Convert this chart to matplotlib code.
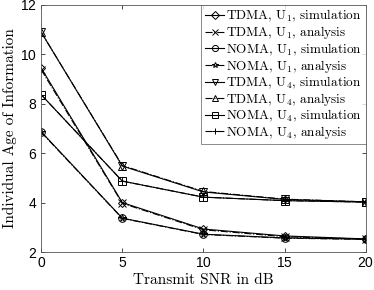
import numpy as np
import matplotlib.pyplot as plt

plt.rcParams['mathtext.fontset'] = 'cm'
plt.rcParams['axes.formatter.use_mathtext'] = True

snr = [0, 5, 10, 15, 20]

tdma_u1_sim = [9.45, 4.0, 2.93, 2.65, 2.53]
tdma_u1_ana = [9.38, 3.97, 2.90, 2.62, 2.52]
noma_u1_sim = [6.87, 3.37, 2.72, 2.57, 2.52]
noma_u1_ana = [6.85, 3.36, 2.71, 2.56, 2.51]
tdma_u4_sim = [10.9, 5.48, 4.43, 4.13, 4.03]
tdma_u4_ana = [10.9, 5.50, 4.45, 4.14, 4.03]
noma_u4_sim = [8.37, 4.87, 4.22, 4.08, 4.02]
noma_u4_ana = [8.37, 4.87, 4.22, 4.08, 4.02]

series = [
    (tdma_u1_sim, 'D', '-', 'TDMA, U$_1$, simulation'),
    (tdma_u1_ana, 'x', '-.', 'TDMA, U$_1$, analysis'),
    (noma_u1_sim, 'o', '-', 'NOMA, U$_1$, simulation'),
    (noma_u1_ana, '*', '-.', 'NOMA, U$_1$, analysis'),
    (tdma_u4_sim, 'v', '-', 'TDMA, U$_4$, simulation'),
    (tdma_u4_ana, '^', '-.', 'TDMA, U$_4$, analysis'),
    (noma_u4_sim, 's', '-', 'NOMA, U$_4$, simulation'),
    (noma_u4_ana, '+', '-.', 'NOMA, U$_4$, analysis'),
]

fig = plt.figure(figsize=(3.74, 2.90), dpi=100)
ax = fig.add_axes([0.11, 0.131, 0.868, 0.852])

for vals, m, ls, lab in series:
    ms = 4.5 if m == 'D' else 5.5
    ax.plot(snr, vals, color='k', linestyle=ls, marker=m, markersize=ms,
            markerfacecolor='none', markeredgewidth=0.7, linewidth=0.8, label=lab)

ax.set_xlim(0, 20)
ax.set_ylim(2, 12)
ax.set_xticks([0, 5, 10, 15, 20])
ax.set_yticks([2, 4, 6, 8, 10, 12])
ax.tick_params(direction='in', length=3, width=0.5, labelsize=10, pad=3,
               top=True, right=True)
for lbl in ax.get_xticklabels() + ax.get_yticklabels():
    lbl.set_family('Liberation Sans')
for sp in ax.spines.values():
    sp.set_linewidth(0.6)
    sp.set_color('#555555')

ax.set_xlabel('Transmit SNR in dB', family='cmr10', fontsize=11, labelpad=2)
ax.set_ylabel('Individual Age of Information', family='cmr10', fontsize=11, labelpad=2)

leg = ax.legend(loc='upper right', borderaxespad=0,
                prop={'family': 'cmr10', 'size': 9.5}, fancybox=False,
                handlelength=1.5, handletextpad=0.15, labelspacing=0.0,
                borderpad=0.25, markerscale=0.8)
leg.get_frame().set_edgecolor('#555555')
leg.get_frame().set_linewidth(0.6)

plt.savefig('out.png', dpi=100)
